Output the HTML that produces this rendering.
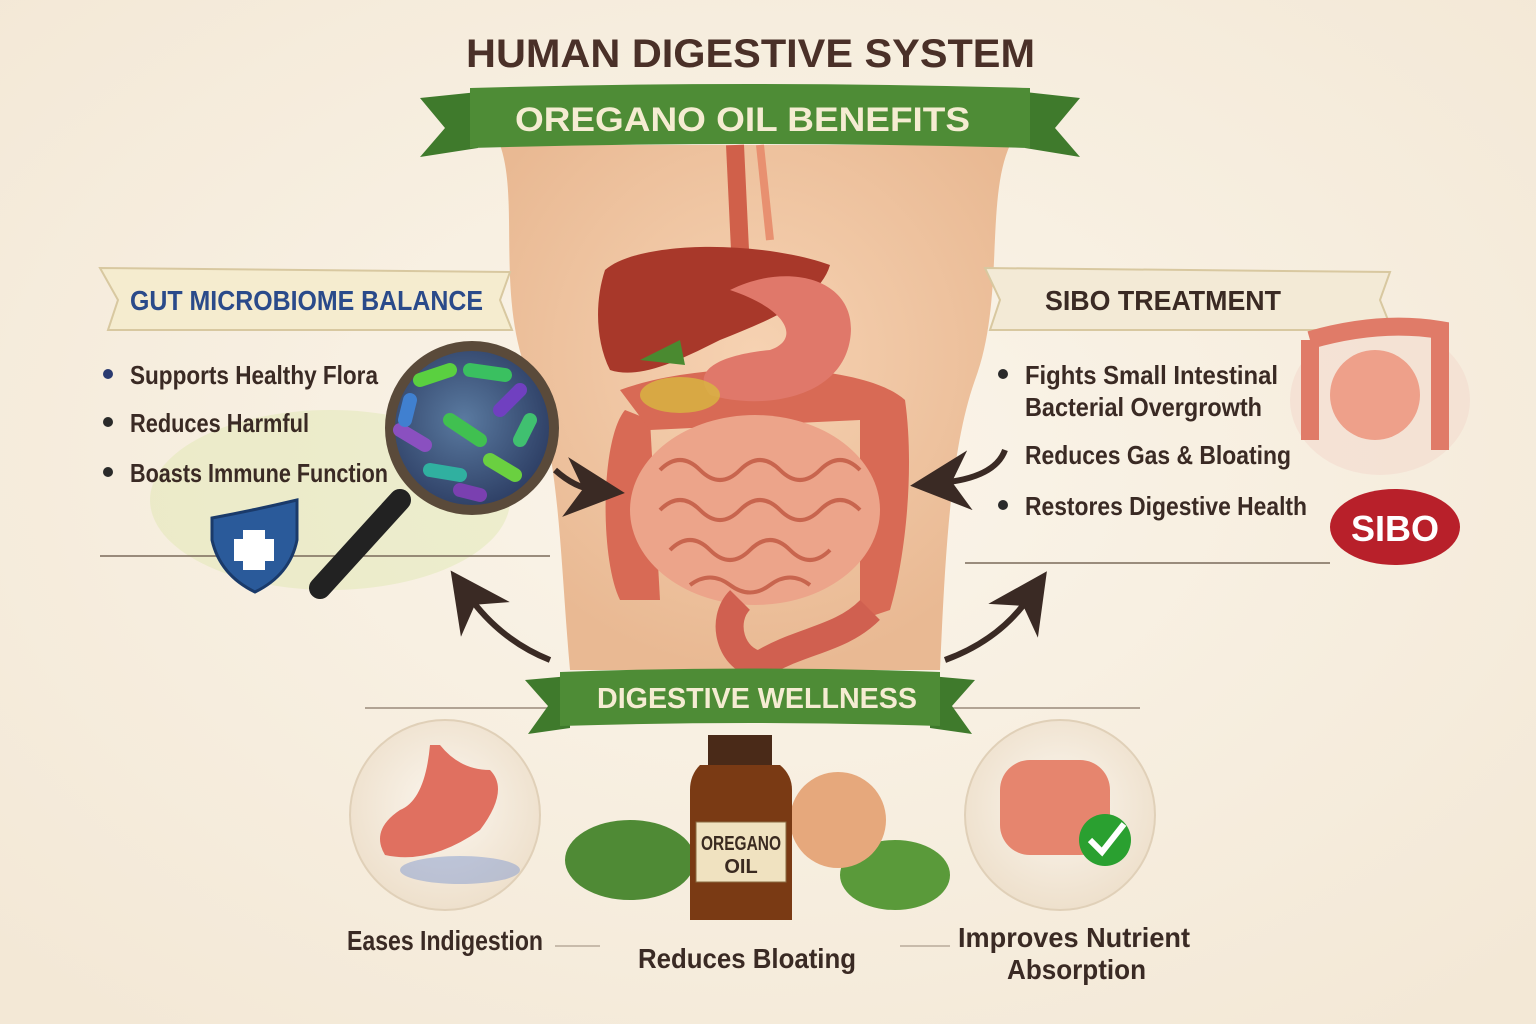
<!DOCTYPE html>
<html><head><meta charset="utf-8"><style>
html,body{margin:0;padding:0;background:#f8f0e3;}
svg{display:block}
.t{font-family:"Liberation Sans",sans-serif;}
</style></head><body>
<svg width="1536" height="1024" viewBox="0 0 1536 1024" xmlns="http://www.w3.org/2000/svg">
<defs>
<radialGradient id="bg" cx="50%" cy="45%" r="70%"><stop offset="0" stop-color="#fbf5ea"/><stop offset="1" stop-color="#f3e8d6"/></radialGradient>
<radialGradient id="skin" cx="50%" cy="40%" r="60%"><stop offset="0" stop-color="#f6d2b2"/><stop offset="1" stop-color="#e9b993"/></radialGradient>
<radialGradient id="mag" cx="45%" cy="45%" r="60%"><stop offset="0" stop-color="#5a7aa0"/><stop offset="1" stop-color="#2a3a60"/></radialGradient>
<radialGradient id="circ" cx="50%" cy="45%" r="55%"><stop offset="0" stop-color="#fbf6ee"/><stop offset="1" stop-color="#eee0cc"/></radialGradient>
<marker id="ah" markerWidth="10" markerHeight="10" refX="5" refY="5" orient="auto"><path d="M0,0 L10,5 L0,10 L3,5z" fill="#3a2a24"/></marker>
</defs>
<rect width="1536" height="1024" fill="url(#bg)"/>
<ellipse cx="330" cy="500" rx="180" ry="90" fill="#d8e4a0" opacity="0.35"/>

<path d="M500,145 C520,200 495,300 530,380 C560,450 560,560 570,670 L940,670 C945,560 950,450 975,380 C1005,300 985,200 1010,145 Z" fill="url(#skin)"/>
<path d="M735,145 L740,250" stroke="#d0604a" stroke-width="18" fill="none"/>
<path d="M760,145 L770,240" stroke="#e89070" stroke-width="8" fill="none"/>

<path d="M625,410 C600,440 600,560 620,600 L660,600 L650,420 Z" fill="#d86a55"/>
<path d="M620,390 C700,360 860,360 905,400 C915,470 905,560 890,610 L860,620 L860,420 L650,430 Z" fill="#d86a55"/>
<ellipse cx="755" cy="510" rx="125" ry="95" fill="#eca48a"/>
<g fill="none" stroke="#c8654e" stroke-width="4">
<path d="M660,470 q20,-20 40,0 t40,0 t40,0 t40,0 t40,0"/>
<path d="M660,510 q20,-20 40,0 t40,0 t40,0 t40,0 t40,0"/>
<path d="M670,550 q20,-20 40,0 t40,0 t40,0 t40,0"/>
<path d="M690,585 q20,-15 40,0 t40,0 t40,0"/>
</g>
<path d="M740,600 C720,620 730,660 760,665 C800,640 840,640 870,610" stroke="#d06050" stroke-width="28" fill="none"/>
<path d="M605,270 C640,240 760,240 830,265 C820,300 770,320 720,340 C680,360 640,380 610,370 C595,340 595,300 605,270Z" fill="#a8382a"/>
<path d="M730,290 C790,260 860,280 850,340 C840,400 760,410 710,395 C690,370 720,355 770,350 C800,340 790,310 730,290Z" fill="#e0786a"/>
<path d="M640,360 l40,-20 l5,25 z" fill="#4a8a30"/>
<ellipse cx="680" cy="395" rx="40" ry="18" fill="#d8b840" opacity="0.8"/>

<text x="466" y="67" textLength="569" lengthAdjust="spacingAndGlyphs" font-family="Liberation Sans, sans-serif" font-weight="bold" font-size="40" fill="#4a3028">HUMAN DIGESTIVE SYSTEM</text>
<path d="M420,98 L478,92 L478,148 L420,157 L445,128 Z" fill="#3f7a2c"/>
<path d="M1080,98 L1025,92 L1025,148 L1080,157 L1055,128 Z" fill="#3f7a2c"/>
<path d="M470,88 Q750,80 1030,88 L1030,148 Q750,140 470,148 Z" fill="#4e8c36"/>
<text x="515" y="131" textLength="455" lengthAdjust="spacingAndGlyphs" font-family="Liberation Sans, sans-serif" font-weight="bold" font-size="34" fill="#f5ecd2">OREGANO OIL BENEFITS</text>

<path d="M100,268 L510,272 L500,300 L512,330 L108,330 L118,300 Z" fill="#f5eccf" stroke="#d8c8a0" stroke-width="2"/>
<text x="130" y="310" textLength="353" lengthAdjust="spacingAndGlyphs" class="t" font-weight="bold" font-size="28" fill="#2a4a8a">GUT MICROBIOME BALANCE</text>
<g class="t" font-size="26" font-weight="bold" fill="#3a2a24" lengthAdjust="spacingAndGlyphs">
<circle cx="108" cy="374" r="5" fill="#2a3a70"/><text x="130" y="384" textLength="248" lengthAdjust="spacingAndGlyphs">Supports Healthy Flora</text>
<circle cx="108" cy="422" r="5" fill="#2a2a2a"/><text x="130" y="432" textLength="179" lengthAdjust="spacingAndGlyphs">Reduces Harmful</text>
<circle cx="108" cy="472" r="5" fill="#2a2a2a"/><text x="130" y="482" textLength="258" lengthAdjust="spacingAndGlyphs">Boasts Immune Function</text>
</g>
<line x1="100" y1="556" x2="550" y2="556" stroke="#7a6a5a" stroke-width="1.5"/>
<path d="M212,518 Q255,510 297,500 L297,540 Q290,575 255,592 Q220,575 212,540Z" fill="#2a5a9a" stroke="#1a3a6a" stroke-width="3"/>
<rect x="243" y="530" width="22" height="40" fill="#fff"/><rect x="234" y="539" width="40" height="22" fill="#fff"/>
<line x1="400" y1="500" x2="320" y2="588" stroke="#222" stroke-width="22" stroke-linecap="round"/>
<circle cx="472" cy="428" r="82" fill="url(#mag)" stroke="#5a4a3a" stroke-width="10"/>
<g stroke-width="14" stroke-linecap="round" fill="none">
<path d="M420,380 l30,-10" stroke="#5ad040"/><path d="M470,370 l35,5" stroke="#3ac060"/>
<path d="M400,430 l25,15" stroke="#8a50c0"/><path d="M450,420 l30,20" stroke="#40c050"/>
<path d="M500,410 l20,-20" stroke="#7040c0"/><path d="M430,470 l30,5" stroke="#30b0a0"/>
<path d="M490,460 l25,15" stroke="#6ad040"/><path d="M520,440 l10,-20" stroke="#40c070"/>
<path d="M410,400 l-5,20" stroke="#4080d0"/><path d="M460,490 l20,5" stroke="#7a40b0"/>
</g>

<path d="M985,268 L1390,272 L1380,300 L1392,330 L990,330 L1000,300 Z" fill="#f3ead6" stroke="#d8c8a0" stroke-width="2"/>
<text x="1045" y="310" textLength="236" lengthAdjust="spacingAndGlyphs" class="t" font-weight="bold" font-size="28" fill="#3a2a24">SIBO TREATMENT</text>
<ellipse cx="1380" cy="400" rx="90" ry="75" fill="#f3ddd0" opacity="0.7"/>
<path d="M1310,340 Q1380,320 1440,330 L1440,450 M1310,340 L1310,440" stroke="#e07b68" stroke-width="18" fill="none"/>
<ellipse cx="1375" cy="395" rx="45" ry="45" fill="#eea08a"/>
<g class="t" font-size="26" font-weight="bold" fill="#3a2a24">
<circle cx="1003" cy="374" r="5" fill="#2a2a2a"/><text x="1025" y="384" textLength="253" lengthAdjust="spacingAndGlyphs">Fights Small Intestinal</text><text x="1025" y="416" textLength="237" lengthAdjust="spacingAndGlyphs">Bacterial Overgrowth</text>
<text x="1025" y="464" textLength="266" lengthAdjust="spacingAndGlyphs">Reduces Gas &amp; Bloating</text>
<circle cx="1003" cy="505" r="5" fill="#2a2a2a"/><text x="1025" y="515" textLength="282" lengthAdjust="spacingAndGlyphs">Restores Digestive Health</text>
</g>
<line x1="965" y1="563" x2="1330" y2="563" stroke="#7a6a5a" stroke-width="1.5"/>
<ellipse cx="1395" cy="527" rx="65" ry="38" fill="#b8202a"/>
<text x="1395" y="541" text-anchor="middle" font-family="Liberation Sans, sans-serif" font-weight="bold" font-size="36" fill="#fff">SIBO</text>

<g stroke="#3a2a24" stroke-width="6" fill="none" marker-end="url(#ah)">
<path d="M555,470 Q575,488 595,490"/>
<path d="M1005,450 Q995,478 940,483"/>
<path d="M550,660 Q500,640 468,595"/>
<path d="M945,660 Q1000,640 1030,596"/>
</g>

<line x1="365" y1="708" x2="1140" y2="708" stroke="#9a8a7a" stroke-width="1.5"/>
<path d="M525,680 L570,676 L570,728 L528,734 L548,706Z" fill="#3f7a2c"/>
<path d="M975,680 L930,676 L930,728 L972,734 L952,706Z" fill="#3f7a2c"/>
<path d="M560,672 Q750,665 940,672 L940,726 Q750,720 560,726Z" fill="#4e8c36"/>
<text x="597" y="708" textLength="320" lengthAdjust="spacingAndGlyphs" font-family="Liberation Sans, sans-serif" font-weight="bold" font-size="29" fill="#f5ecd2">DIGESTIVE WELLNESS</text>

<circle cx="445" cy="815" r="95" fill="url(#circ)" stroke="#e0d0b8" stroke-width="2"/>
<path d="M430,745 Q425,800 400,810 Q370,830 385,855 Q430,865 480,830 Q510,790 490,770 Q460,770 440,745Z" fill="#e07060"/>
<ellipse cx="460" cy="870" rx="60" ry="14" fill="#6a8ad0" opacity="0.4"/>
<circle cx="1060" cy="815" r="95" fill="url(#circ)" stroke="#e0d0b8" stroke-width="2"/>
<rect x="1000" y="760" width="110" height="95" rx="30" fill="#e6856e"/>
<circle cx="1105" cy="840" r="26" fill="#2aa030"/>
<path d="M1090,840 l12,12 l22,-28" stroke="#fff" stroke-width="6" fill="none"/>

<ellipse cx="630" cy="860" rx="65" ry="40" fill="#4f8a35"/>
<ellipse cx="895" cy="875" rx="55" ry="35" fill="#5a9a3a"/>
<circle cx="838" cy="820" r="48" fill="#e6a87c"/>
<rect x="708" y="735" width="64" height="30" fill="#4a2a18"/>
<path d="M700,765 L780,765 Q792,775 792,790 L792,920 L690,920 L690,790 Q690,775 700,765Z" fill="#7a3a14"/>
<rect x="696" y="822" width="90" height="60" fill="#f0e2c0" stroke="#8a6a40"/>
<text x="701" y="850" textLength="80" lengthAdjust="spacingAndGlyphs" class="t" font-weight="bold" font-size="20" fill="#3a2a20">OREGANO</text>
<text x="741" y="873" text-anchor="middle" class="t" font-weight="bold" font-size="20" fill="#3a2a20">OIL</text>

<g class="t" font-size="28" font-weight="bold" fill="#3a2a24">
<text x="347" y="950" textLength="196" lengthAdjust="spacingAndGlyphs">Eases Indigestion</text>
<text x="638" y="968" textLength="218" lengthAdjust="spacingAndGlyphs">Reduces Bloating</text>
<text x="958" y="947" textLength="232" lengthAdjust="spacingAndGlyphs">Improves Nutrient</text>
<text x="1007" y="979" textLength="139" lengthAdjust="spacingAndGlyphs">Absorption</text>
</g>
<line x1="555" y1="946" x2="600" y2="946" stroke="#9a8a7a"/>
<line x1="900" y1="946" x2="950" y2="946" stroke="#9a8a7a"/>
</svg>
</body></html>
